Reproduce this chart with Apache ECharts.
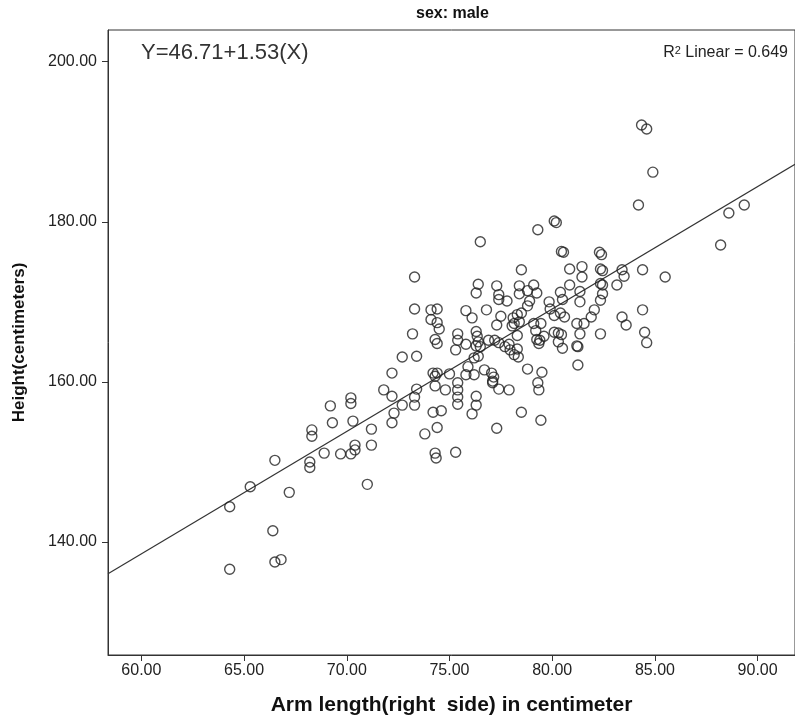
<!DOCTYPE html>
<html>
<head>
<meta charset="utf-8">
<script src="https://cdn.jsdelivr.net/npm/echarts@6/dist/echarts.min.js"></script>
<style>
  html, body { margin: 0; padding: 0; background: #ffffff; }
  #chart { width: 795px; height: 726px; }
</style>
</head>
<body>
<div id="chart"></div>
<script>
// Arm length (right side, cm) and body height (cm) for the male group
const armLength = [
  64.3, 64.3, 65.3, 66.4, 66.5, 66.8, 66.5, 67.2, 68.2, 68.2,
  68.3, 68.3, 68.9, 69.2, 69.3, 69.7, 70.2, 70.2, 70.3, 70.2,
  70.4, 70.4, 71.2, 71.2, 71.0, 71.8, 72.2, 72.2, 72.7, 73.4,
  73.3, 73.3, 72.3, 72.7, 73.4, 72.2, 73.2, 73.3, 73.3, 73.8,
  74.1, 74.4, 74.1, 74.4, 74.5, 74.3, 74.4, 74.2, 74.3, 74.4,
  74.3, 74.8, 74.2, 74.6, 74.4, 74.3, 74.35, 75.0, 75.4, 75.4,
  75.3, 75.8, 75.8, 76.1, 75.4, 75.4, 75.4, 75.4, 75.8, 75.9,
  75.3, 76.4, 76.3, 76.5, 76.8, 76.3, 76.35, 76.4, 76.3, 76.5,
  76.9, 76.4, 76.2, 76.2, 76.7, 77.05, 77.15, 77.1, 76.3, 76.3,
  76.1, 77.3, 77.4, 77.4, 77.8, 77.5, 77.3, 77.2, 77.4, 77.7,
  77.9, 77.95, 77.1, 77.4, 77.9, 77.3, 78.5, 78.4, 78.4, 78.8,
  79.1, 79.25, 78.9, 78.8, 78.1, 78.3, 78.5, 78.15, 78.4, 78.05,
  79.1, 79.45, 78.3, 78.3, 78.15, 78.35, 78.8, 78.5, 79.2, 79.25,
  79.4, 79.6, 79.35, 79.5, 79.3, 79.35, 79.45, 79.3, 79.85, 79.9,
  80.1, 80.4, 80.6, 80.4, 80.5, 80.1, 80.3, 80.45, 80.3, 80.5,
  80.1, 80.2, 80.45, 80.55, 80.85, 80.85, 81.45, 81.45, 81.35, 81.35,
  81.2, 81.55, 81.35, 81.2, 81.25, 81.25, 81.9, 82.05, 82.3, 82.4,
  82.35, 82.45, 82.35, 82.45, 82.45, 82.35, 82.35, 83.15, 83.4, 83.5,
  84.4, 85.5, 84.4, 83.4, 83.6, 84.5, 84.6, 84.2, 84.35, 84.6,
  84.9, 88.6, 89.35, 88.2
];
const height = [
  144.4, 136.6, 146.9, 141.4, 137.5, 137.8, 150.2, 146.2, 150.0, 149.3,
  154.0, 153.2, 151.1, 157.0, 154.9, 151.0, 158.0, 157.3, 155.1, 151.0,
  151.5, 152.1, 154.1, 152.1, 147.2, 159.0, 154.9, 158.2, 157.1, 159.1,
  158.1, 157.1, 156.1, 163.1, 163.2, 161.1, 166.0, 169.1, 173.1, 153.5,
  169.0, 169.1, 167.8, 167.4, 166.6, 165.3, 164.8, 161.1, 160.7, 161.1,
  159.5, 159.0, 156.2, 156.4, 154.3, 151.1, 150.5, 161.0, 166.0, 165.2,
  164.0, 164.7, 168.9, 168.0, 159.9, 159.0, 158.1, 157.2, 160.9, 161.9,
  151.2, 172.2, 171.1, 177.5, 169.0, 166.3, 165.7, 165.0, 164.5, 164.4,
  165.2, 163.2, 163.0, 160.9, 161.5, 161.1, 160.6, 160.1, 158.2, 157.1,
  156.0, 172.0, 170.9, 170.3, 170.1, 168.2, 167.1, 165.2, 164.9, 164.4,
  164.7, 164.0, 159.9, 159.1, 159.0, 154.2, 174.0, 172.0, 171.0, 171.4,
  172.1, 171.1, 170.1, 169.5, 168.0, 168.4, 168.6, 167.3, 167.5, 167.0,
  167.3, 167.3, 165.8, 164.1, 163.4, 163.1, 161.6, 156.2, 166.4, 165.3,
  165.2, 165.7, 164.8, 161.2, 159.9, 159.0, 155.2, 179.0, 170.0, 169.1,
  168.3, 168.6, 168.1, 171.2, 170.3, 166.2, 166.1, 165.9, 165.0, 164.2,
  180.1, 179.9, 176.3, 176.2, 174.1, 172.1, 174.4, 173.1, 171.3, 170.0,
  167.3, 167.3, 166.0, 164.5, 164.4, 162.1, 168.1, 169.0, 176.2, 175.9,
  174.1, 173.9, 172.3, 172.1, 171.0, 170.2, 166.0, 172.1, 174.0, 173.2,
  174.0, 173.1, 169.0, 168.1, 167.1, 166.2, 164.9, 182.1, 192.1, 191.6,
  186.2, 181.1, 182.1, 177.1
];

// Axis tick values
const xTicks = [60, 65, 70, 75, 80, 85, 90];
const yTicks = [140, 160, 180, 200];

// Linear fit: Y = intercept + slope * X
const fitIntercept = 46.71;
const fitSlope = 1.53;
const rSquared = 0.649;

const panelTitle = 'sex: male';
const xTitle = 'Arm length(right  side) in centimeter';
const yTitle = 'Height(centimeters)';

const xMin = 58.376, xMax = 91.82;
const yMin = 125.88, yMax = 203.96;

const points = armLength.map((x, i) => [x, height[i]]);
const fitLine = [xMin, xMax].map(x => [x, fitIntercept + fitSlope * x]);

const FONT = '"Liberation Sans", Arial, sans-serif';
const INK = '#333333';

const chart = echarts.init(document.getElementById('chart'), null, { renderer: 'canvas' });

chart.setOption({
  animation: false,
  backgroundColor: '#ffffff',
  grid: {
    left: 108, top: 30, width: 690, height: 625,
    show: true, borderColor: INK, borderWidth: 1, backgroundColor: 'transparent'
  },
  xAxis: {
    type: 'value', min: xMin, max: xMax,
    name: xTitle, nameLocation: 'middle', nameGap: 40,
    nameTextStyle: { fontFamily: FONT, fontWeight: 'bold', fontSize: 21, color: '#111' },
    axisLine: { show: true, onZero: false, lineStyle: { color: INK, width: 1 } },
    axisTick: { show: true, customValues: xTicks, length: 6, lineStyle: { color: INK } },
    axisLabel: {
      customValues: xTicks, margin: 8,
      formatter: v => v.toFixed(2),
      fontFamily: FONT, fontSize: 16, color: '#222'
    },
    splitLine: { show: false }
  },
  yAxis: {
    type: 'value', min: yMin, max: yMax,
    name: yTitle, nameLocation: 'middle', nameGap: 80,
    nameTextStyle: { fontFamily: FONT, fontWeight: 'bold', fontSize: 17, color: '#111' },
    axisLine: { show: true, onZero: false, lineStyle: { color: INK, width: 1 } },
    axisTick: { show: true, customValues: yTicks, length: 6, lineStyle: { color: INK } },
    axisLabel: {
      customValues: yTicks, margin: 11,
      formatter: v => v.toFixed(2),
      fontFamily: FONT, fontSize: 16, color: '#222'
    },
    splitLine: { show: false }
  },
  series: [
    {
      type: 'line',
      data: fitLine,
      symbol: 'none',
      silent: true,
      lineStyle: { color: INK, width: 1.2 },
      z: 1
    },
    {
      type: 'scatter',
      data: points,
      symbol: 'circle',
      symbolSize: 10,
      itemStyle: { color: 'rgba(255,255,255,0)', borderColor: '#222', borderWidth: 1.4 },
      z: 2
    }
  ],
  graphic: [
    {
      type: 'text', left: 416, top: 6,
      style: { text: panelTitle, font: 'bold 16px ' + FONT, fill: '#111' }
    },
    {
      type: 'text', left: 141, top: 42,
      style: {
        text: 'Y=' + fitIntercept.toFixed(2) + '+' + fitSlope.toFixed(2) + '(X)',
        font: '22px ' + FONT, fill: '#333'
      }
    },
    {
      type: 'text', right: 7, top: 45,
      style: {
        text: '{n|R}{s|2}{n| Linear = ' + rSquared.toFixed(3) + '}',
        rich: {
          n: { font: '16px ' + FONT, fill: '#222', verticalAlign: 'bottom' },
          s: { font: '11px ' + FONT, fill: '#222', verticalAlign: 'top' }
        }
      }
    }
  ]
});
</script>
</body>
</html>
